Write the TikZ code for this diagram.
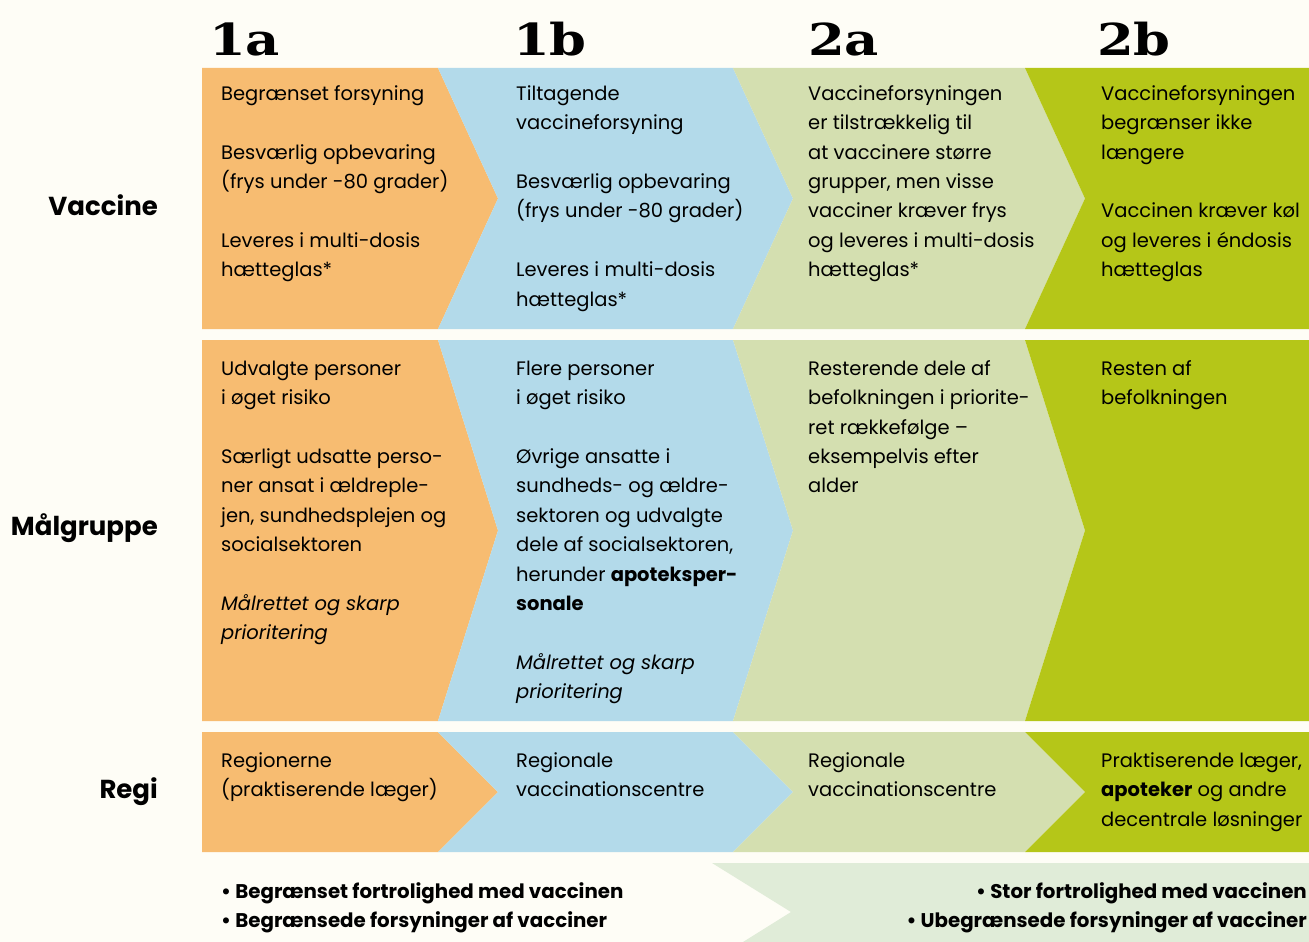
\documentclass[tikz,border=0pt]{standalone}
\usepackage{fontspec}
\usepackage{graphicx}
\setmainfont{Poppins}
\newfontfamily\headfont{DejaVu Serif}
\definecolor{bgc}{RGB}{254,253,246}
\definecolor{cOr}{RGB}{247,188,113}
\definecolor{cBl}{RGB}{179,218,234}
\definecolor{cGr}{RGB}{212,223,176}
\definecolor{cLi}{RGB}{181,198,24}
\definecolor{cBand}{RGB}{224,236,216}
\newcommand{\hd}[1]{\scalebox{1.2}[1]{#1}}
\begin{document}
\begin{tikzpicture}[x=1pt,y=-1pt,
  body/.style={anchor=north west,inner sep=0pt,align=left,font=\fontsize{19.5}{29.4}\selectfont},
  rowlab/.style={anchor=east,inner sep=0pt,font=\fontsize{26}{30}\selectfont\bfseries},
  head/.style={anchor=base west,inner sep=0pt,font=\fontsize{44}{48}\selectfont\headfont\bfseries},
  bandtxt/.style={inner sep=0pt,font=\fontsize{19.8}{29}\selectfont\bfseries}]
\fill[bgc] (0,0) rectangle (1309,942);
\useasboundingbox (0,0) rectangle (1309,942);
% chevron rows
\foreach \t/\b in {68/329,340/721,732/852}{
  \pgfmathsetmacro{\m}{(\t+\b)/2}
  \fill[cOr] (202,\t) -- (438,\t) -- (498,\m) -- (438,\b) -- (202,\b) -- cycle;
  \fill[cBl] (438,\t) -- (733,\t) -- (793,\m) -- (733,\b) -- (438,\b) -- (498,\m) -- cycle;
  \fill[cGr] (733,\t) -- (1025,\t) -- (1085,\m) -- (1025,\b) -- (733,\b) -- (793,\m) -- cycle;
  \fill[cLi] (1025,\t) -- (1309,\t) -- (1309,\b) -- (1025,\b) -- (1085,\m) -- cycle;
}
\fill[cBand] (712,863) -- (1309,863) -- (1309,942) -- (743,942) -- (791,912) -- cycle;
% headers
\node[head] (h1a) at (209,56) {\hd{1a}};
\node[head] (h1b) at (513,56) {\hd{1b}};
\node[head] (h2a) at (808,56) {\hd{2a}};
\node[head] (h2b) at (1097,56) {\hd{2b}};
% row labels
\node[rowlab] (lv) at (158,205) {Vaccine};
\node[rowlab] (lm) at (158,528) {Målgruppe};
\node[rowlab] (lr) at (158,792) {Regi};
% row 1
\node[body] (v1a) at (221,83) {\rule{0pt}{17pt}Begrænset forsyning\\[29.4pt]Besværlig opbevaring\\(frys under -80 grader)\\[29.4pt]Leveres i multi-dosis\\hætteglas*};
\node[body] (v1b) at (516,83) {\rule{0pt}{17pt}Tiltagende\\vaccineforsyning\\[29.4pt]Besværlig opbevaring\\(frys under -80 grader)\\[29.4pt]Leveres i multi-dosis\\hætteglas*};
\node[body] (v2a) at (808,83) {\rule{0pt}{17pt}Vaccineforsyningen\\er tilstrækkelig til\\at vaccinere større\\grupper, men visse\\vacciner kræver frys\\og leveres i multi-dosis\\hætteglas*};
\node[body] (v2b) at (1101,83) {\rule{0pt}{17pt}Vaccineforsyningen\\begrænser ikke\\længere\\[29.4pt]Vaccinen kræver køl\\og leveres i éndosis\\hætteglas};
% row 2
\node[body] (m1a) at (221,358) {\rule{0pt}{17pt}Udvalgte personer\\i øget risiko\\[29.4pt]Særligt udsatte perso-\\ner ansat i ældreple-\\jen, sundhedsplejen og\\socialsektoren\\[29.4pt]\textit{Målrettet og skarp}\\\textit{prioritering}};
\node[body] (m1b) at (516,358) {\rule{0pt}{17pt}Flere personer\\i øget risiko\\[29.4pt]Øvrige ansatte i\\sundheds- og ældre-\\sektoren og udvalgte\\dele af socialsektoren,\\herunder \textbf{apoteksper-}\\\textbf{sonale}\\[29.4pt]\textit{Målrettet og skarp}\\\textit{prioritering}};
\node[body] (m2a) at (808,358) {\rule{0pt}{17pt}Resterende dele af\\befolkningen i priorite-\\ret rækkefølge –\\eksempelvis efter\\alder};
\node[body] (m2b) at (1101,358) {\rule{0pt}{17pt}Resten af\\befolkningen};
% row 3
\node[body] (r1a) at (221,750) {\rule{0pt}{17pt}Regionerne\\(praktiserende læger)};
\node[body] (r1b) at (516,750) {\rule{0pt}{17pt}Regionale\\vaccinationscentre};
\node[body] (r2a) at (808,750) {\rule{0pt}{17pt}Regionale\\vaccinationscentre};
\node[body] (r2b) at (1101,750) {\rule{0pt}{17pt}Praktiserende læger,\\\textbf{apoteker} og andre\\decentrale løsninger};
% bottom band
\node[bandtxt,anchor=north west,align=left] (bl) at (221,882) {\rule{0pt}{16pt}• Begrænset fortrolighed med vaccinen\\• Begrænsede forsyninger af vacciner};
\node[bandtxt,anchor=north east,align=right] (br) at (1307,882) {\rule{0pt}{16pt}• Stor fortrolighed med vaccinen\\• Ubegrænsede forsyninger af vacciner};
\end{tikzpicture}
\end{document}
